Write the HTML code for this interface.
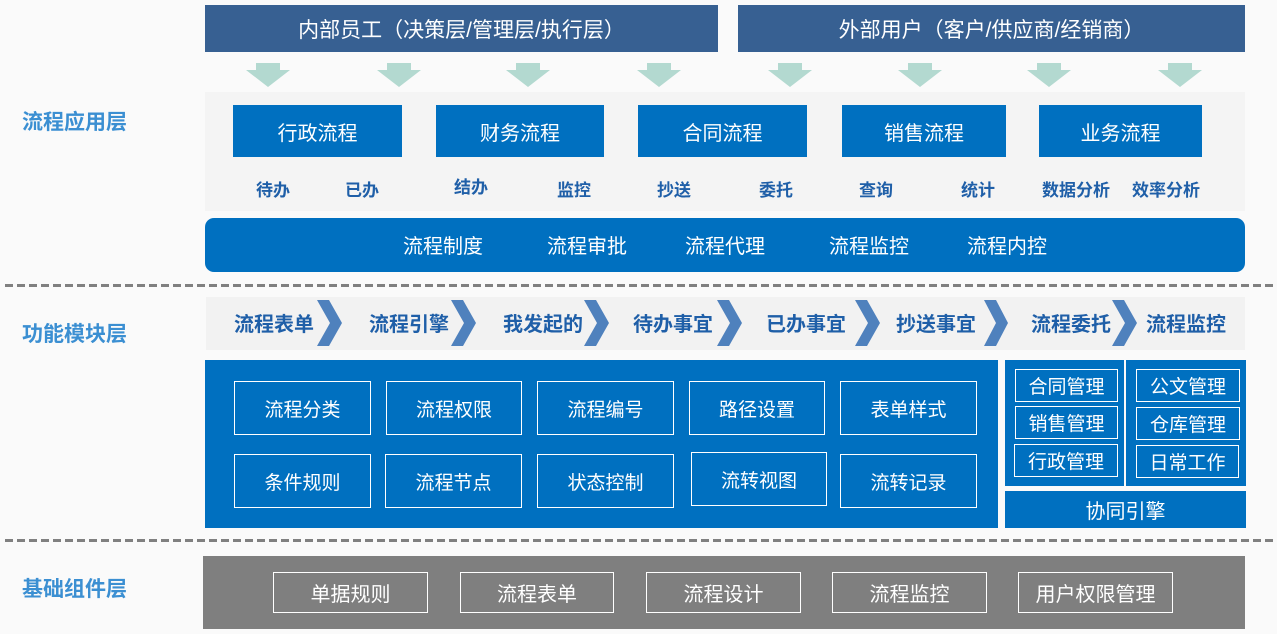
<!DOCTYPE html>
<html><head><meta charset="utf-8"><style>
*{margin:0;padding:0;box-sizing:border-box}
body{width:1277px;height:634px;background:#fafafa;position:relative;overflow:hidden;font-family:"Liberation Sans","Noto Sans CJK SC",sans-serif}
.a{position:absolute;display:flex;align-items:center;justify-content:center;white-space:nowrap}
.hdr{background:#376092;color:#fff;font-size:21px}
.bb{background:#0070c0;color:#fff;font-size:20px}
.lbl{color:#1f5fa8;font-weight:bold;font-size:17px;width:90px;margin-left:-45px;height:24px}
.side{color:#3b8fd2;font-weight:bold;font-size:21px}
.ob{border:1.5px solid #fff;color:#fff;font-size:19px}
.ch{color:#1f5fa8;font-weight:bold;font-size:20px;width:120px;margin-left:-60px;height:30px}
.dash{position:absolute;left:5px;right:0;height:3px;background:repeating-linear-gradient(90deg,#808080 0 8px,transparent 8px 12px)}
</style></head><body>
<div class="a hdr" style="left:205px;top:5px;width:513px;height:47px">内部员工（决策层/管理层/执行层）</div>
<div class="a hdr" style="left:738px;top:5px;width:507px;height:47px">外部用户（客户/供应商/经销商）</div>
<svg style="position:absolute;left:0;top:0" width="1277" height="90">
<g fill="#b3d9d0">
<polygon points="256,63 280,63 280,70 290,70 268,87 246,70 256,70"/>
<polygon points="387,63 411,63 411,70 421,70 399,87 377,70 387,70"/>
<polygon points="516,63 540,63 540,70 550,70 528,87 506,70 516,70"/>
<polygon points="647,63 671,63 671,70 681,70 659,87 637,70 647,70"/>
<polygon points="778,63 802,63 802,70 812,70 790,87 768,70 778,70"/>
<polygon points="908,63 932,63 932,70 942,70 920,87 898,70 908,70"/>
<polygon points="1037,63 1061,63 1061,70 1071,70 1049,87 1027,70 1037,70"/>
<polygon points="1168,63 1192,63 1192,70 1202,70 1180,87 1158,70 1168,70"/>
</g></svg>
<div style="position:absolute;left:205px;top:92px;width:1040px;height:119px;background:#f4f4f4"></div>
<div class="a bb" style="left:233px;top:105px;width:169px;height:52px">行政流程</div>
<div class="a bb" style="left:436px;top:105px;width:168px;height:52px">财务流程</div>
<div class="a bb" style="left:638px;top:105px;width:169px;height:52px">合同流程</div>
<div class="a bb" style="left:842px;top:105px;width:164px;height:52px">销售流程</div>
<div class="a bb" style="left:1039px;top:105px;width:163px;height:52px">业务流程</div>
<div class="a lbl" style="left:273px;top:176px">待办</div>
<div class="a lbl" style="left:362px;top:176px">已办</div>
<div class="a lbl" style="left:471px;top:173px">结办</div>
<div class="a lbl" style="left:574px;top:176px">监控</div>
<div class="a lbl" style="left:674px;top:176px">抄送</div>
<div class="a lbl" style="left:776px;top:176px">委托</div>
<div class="a lbl" style="left:876px;top:176px">查询</div>
<div class="a lbl" style="left:978px;top:176px">统计</div>
<div class="a lbl" style="left:1076px;top:176px">数据分析</div>
<div class="a lbl" style="left:1166px;top:176px">效率分析</div>
<div style="position:absolute;left:205px;top:218px;width:1040px;height:54px;background:#0070c0;border-radius:9px"></div>
<div class="a" style="left:373px;top:229px;width:140px;height:30px;color:#fff;font-size:20px">流程制度</div>
<div class="a" style="left:517px;top:229px;width:140px;height:30px;color:#fff;font-size:20px">流程审批</div>
<div class="a" style="left:655px;top:229px;width:140px;height:30px;color:#fff;font-size:20px">流程代理</div>
<div class="a" style="left:799px;top:229px;width:140px;height:30px;color:#fff;font-size:20px">流程监控</div>
<div class="a" style="left:937px;top:229px;width:140px;height:30px;color:#fff;font-size:20px">流程内控</div>
<div class="dash" style="top:284px"></div>
<div class="a side" style="left:22px;top:106px;height:30px">流程应用层</div>
<div class="a side" style="left:22px;top:318px;height:30px">功能模块层</div>
<div class="a side" style="left:22px;top:573px;height:30px">基础组件层</div>
<div style="position:absolute;left:206px;top:297px;width:1039px;height:53px;background:#f2f2f2"></div>
<svg style="position:absolute;left:0;top:297px" width="1277" height="60"><g fill="#4f81bd">
<polygon points="317,3 329,3 342,26 329,49 317,49 330,26"/>
<polygon points="451,3 463,3 476,26 463,49 451,49 464,26"/>
<polygon points="584,3 596,3 609,26 596,49 584,49 597,26"/>
<polygon points="717,3 729,3 742,26 729,49 717,49 730,26"/>
<polygon points="855,3 867,3 880,26 867,49 855,49 868,26"/>
<polygon points="984,3 996,3 1008,26 996,49 984,49 996,26"/>
<polygon points="1112,3 1124,3 1137,26 1124,49 1112,49 1125,26"/>
</g></svg>
<div class="a ch" style="left:274px;top:307px">流程表单</div>
<div class="a ch" style="left:409px;top:307px">流程引擎</div>
<div class="a ch" style="left:543px;top:307px">我发起的</div>
<div class="a ch" style="left:673px;top:307px">待办事宜</div>
<div class="a ch" style="left:806px;top:307px">已办事宜</div>
<div class="a ch" style="left:936px;top:307px">抄送事宜</div>
<div class="a ch" style="left:1071px;top:307px">流程委托</div>
<div class="a ch" style="left:1186px;top:307px">流程监控</div>
<div style="position:absolute;left:205px;top:360px;width:793px;height:168px;background:#0070c0"></div>
<div class="a ob" style="left:234px;top:381px;width:137px;height:54px">流程分类</div>
<div class="a ob" style="left:386px;top:381px;width:136px;height:54px">流程权限</div>
<div class="a ob" style="left:537px;top:381px;width:137px;height:54px">流程编号</div>
<div class="a ob" style="left:689px;top:381px;width:136px;height:54px">路径设置</div>
<div class="a ob" style="left:840px;top:381px;width:137px;height:54px">表单样式</div>
<div class="a ob" style="left:234px;top:454px;width:137px;height:54px">条件规则</div>
<div class="a ob" style="left:385px;top:454px;width:137px;height:54px">流程节点</div>
<div class="a ob" style="left:537px;top:454px;width:137px;height:54px">状态控制</div>
<div class="a ob" style="left:691px;top:452px;width:136px;height:54px">流转视图</div>
<div class="a ob" style="left:840px;top:454px;width:137px;height:54px">流转记录</div>
<div style="position:absolute;left:1005px;top:360px;width:119px;height:126px;background:#0070c0"></div>
<div style="position:absolute;left:1126px;top:360px;width:120px;height:126px;background:#0070c0"></div>
<div class="a ob" style="left:1015px;top:369px;width:103px;height:33px">合同管理</div>
<div class="a ob" style="left:1015px;top:406px;width:103px;height:33px">销售管理</div>
<div class="a ob" style="left:1014px;top:444px;width:104px;height:33px">行政管理</div>
<div class="a ob" style="left:1136px;top:369px;width:104px;height:33px">公文管理</div>
<div class="a ob" style="left:1136px;top:407px;width:104px;height:33px">仓库管理</div>
<div class="a ob" style="left:1136px;top:445px;width:103px;height:33px">日常工作</div>
<div class="a bb" style="left:1005px;top:491px;width:241px;height:37px;font-size:20px">协同引擎</div>
<div class="dash" style="top:539px"></div>
<div style="position:absolute;left:203px;top:556px;width:1042px;height:73px;background:#7f7f7f"></div>
<div class="a ob" style="left:273px;top:572px;width:155px;height:41px;font-size:20px">单据规则</div>
<div class="a ob" style="left:460px;top:572px;width:154px;height:41px;font-size:20px">流程表单</div>
<div class="a ob" style="left:646px;top:572px;width:155px;height:41px;font-size:20px">流程设计</div>
<div class="a ob" style="left:832px;top:572px;width:155px;height:41px;font-size:20px">流程监控</div>
<div class="a ob" style="left:1018px;top:572px;width:155px;height:41px;font-size:20px">用户权限管理</div>
</body></html>
